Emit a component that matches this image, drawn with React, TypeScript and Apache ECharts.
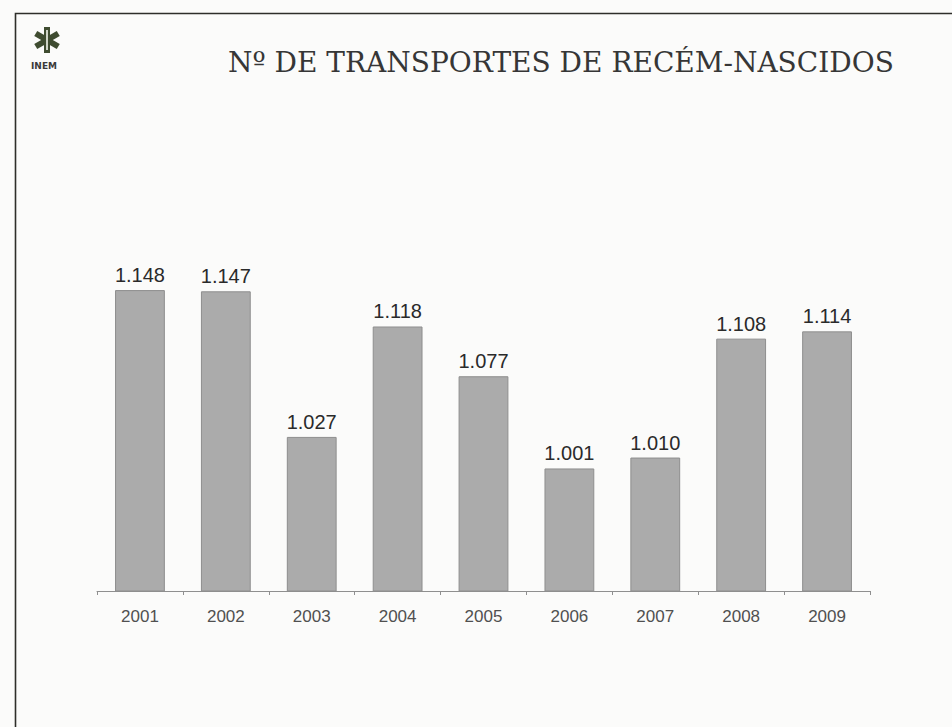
import React, { useEffect, useRef } from "react";
import * as echarts from "echarts";

const years = ["2001", "2002", "2003", "2004", "2005", "2006", "2007", "2008", "2009"];
const transports = [1148, 1147, 1027, 1118, 1077, 1001, 1010, 1108, 1114];
const titleText = "Nº DE TRANSPORTES DE RECÉM-NASCIDOS";

const fmt = (v: number) => {
  const s = String(Math.round(v));
  return s.replace(/\B(?=(\d{3})+(?!\d))/g, ".");
};

export default function App() {
  const ref = useRef<HTMLDivElement>(null);
  useEffect(() => {
    if (!ref.current) return;
    const chart = echarts.init(ref.current, null, { renderer: "svg" });
    const green = "#3f4c30";
    const arm = { x: -3, y: -13, width: 6, height: 26 };
    chart.setOption({
      animation: false,
      backgroundColor: "#fbfbfa",
      graphic: [
        {
          type: "rect",
          shape: { x: 15.5, y: 13.5, width: 980, height: 760 },
          style: { fill: "none", stroke: "#2e2e2a", lineWidth: 1.6 },
          silent: true,
        },
        {
          type: "group",
          x: 47,
          y: 40,
          children: [
            { type: "rect", shape: arm, style: { fill: green } },
            { type: "rect", shape: arm, rotation: Math.PI / 3, style: { fill: green } },
            { type: "rect", shape: arm, rotation: -Math.PI / 3, style: { fill: green } },
            { type: "rect", shape: { x: -1, y: -10, width: 2, height: 20 }, style: { fill: "#cfd4c6" } },
          ],
        },
        {
          type: "text",
          left: 31,
          top: 61,
          style: { text: "INEM", font: "bold 9px 'DejaVu Sans', sans-serif", fill: "#3a3a3a" },
        },
        {
          type: "text",
          left: 228,
          top: 48,
          style: {
            text: titleText,
            font: "28px 'DejaVu Serif', serif",
            fill: "#363636",
          },
        },
      ],
      grid: { left: 97, right: 82, top: 227, bottom: 136, containLabel: false },
      xAxis: {
        type: "category",
        data: years,
        axisLine: { show: true, lineStyle: { color: "#8f8f8f", width: 1 } },
        axisTick: { show: true, length: 4, lineStyle: { color: "#8f8f8f" } },
        axisLabel: { color: "#505050", fontSize: 17, margin: 17, fontFamily: "'Liberation Sans', Arial, sans-serif" },
      },
      yAxis: {
        type: "value",
        min: 900,
        max: 1200,
        show: false,
        splitLine: { show: false },
      },
      series: [
        {
          type: "bar",
          data: transports,
          barWidth: "58%",
          itemStyle: { color: "#ababab", borderColor: "#8e8e8e", borderWidth: 1 },
          label: {
            show: true,
            position: "top",
            distance: 5,
            color: "#2a2a2a",
            fontSize: 20,
            fontFamily: "'Liberation Sans', Arial, sans-serif",
            formatter: (p: any) => fmt(p.value),
          },
        },
      ],
    });
    return () => chart.dispose();
  }, []);
  return <div ref={ref} style={{ position: "fixed", left: 0, top: 0, width: 952, height: 727 }} />;
}
